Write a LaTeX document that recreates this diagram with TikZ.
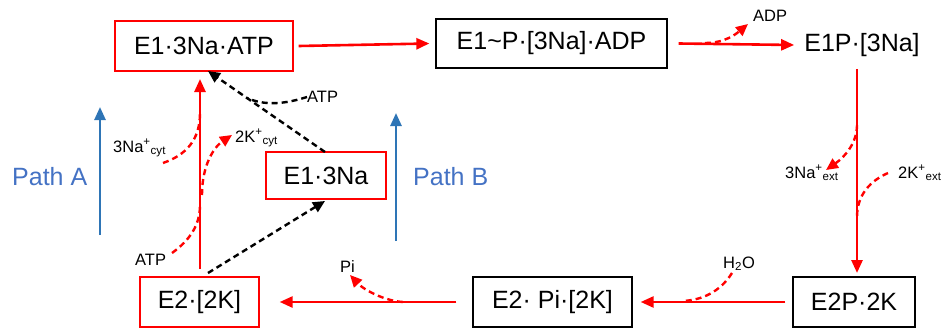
\documentclass[tikz,border=0pt]{standalone}
\usepackage{fontspec}
\setmainfont{Liberation Sans}
\usetikzlibrary{arrows.meta,calc}
\definecolor{myred}{RGB}{255,0,0}
\definecolor{arrowblue}{RGB}{46,117,182}
\definecolor{textblue}{RGB}{68,114,196}
\tikzset{
  box/.style={draw=black,line width=1.3pt,inner sep=0pt,font=\fontsize{25}{30}\selectfont},
  redbox/.style={box,draw=myred},
  lbl/.style={inner sep=0pt,anchor=base west,font=\fontsize{16.5}{20}\selectfont},
  pathlbl/.style={inner sep=0pt,anchor=base west,text=textblue,font=\fontsize{25}{30}\selectfont},
  mainarrow/.style={draw=myred,line width=2.6pt,-{Triangle[length=13pt,width=11pt]}},
  mainline/.style={draw=myred,line width=2.6pt},
  reddash/.style={draw=myred,line width=2.4pt,dash pattern=on 6pt off 4pt},
  reddasharrow/.style={reddash,-{Triangle[length=12pt,width=11pt]}},
  blackdash/.style={draw=black,line width=2.4pt,dash pattern=on 6pt off 4pt},
  blackdasharrow/.style={blackdash,-{Triangle[length=12pt,width=11pt]}},
  bluearrow/.style={draw=arrowblue,line width=2.6pt,-{Triangle[length=13pt,width=11pt]}}
}
\begin{document}
\begin{tikzpicture}[x=1pt,y=-1pt]
\useasboundingbox (0,0) rectangle (942,329);
% boxes
\node[redbox,minimum width=178pt,minimum height=50pt] (n1) at (204,46) {E1·3Na·ATP};
\node[box,minimum width=231pt,minimum height=49pt] (n2) at (551.5,43.5) {E1\textasciitilde P·[3Na]·ADP};
\node[inner sep=0pt,font=\fontsize{25}{30}\selectfont] (n3) at (862,45) {E1P·[3Na]};
\node[box,minimum width=122pt,minimum height=50pt] (n4) at (854,302) {E2P·2K};
\node[box,minimum width=159pt,minimum height=50pt] (n5) at (552.5,302) {E2· Pi·[2K]};
\node[redbox,minimum width=119pt,minimum height=50pt] (n6) at (199.5,302) {E2·[2K]};
\node[redbox,minimum width=120pt,minimum height=47pt] (n7) at (326,175.5) {E1·3Na};
% labels
\node[lbl] (adp) at (753,22) {ADP};
\node[lbl] (naext) at (785,178) {3Na\textsuperscript{+}\textsubscript{ext}};
\node[lbl] (kext) at (898,178) {2K\textsuperscript{+}\textsubscript{ext}};
\node[lbl] (h2o) at (723,268) {H\textsubscript{2}O};
\node[lbl] (pi) at (340,272) {Pi};
\node[lbl] (atpr) at (135,265) {ATP};
\node[lbl] (nacyt) at (113,152) {3Na\textsuperscript{+}\textsubscript{cyt}};
\node[lbl] (kcyt) at (235,142) {2K\textsuperscript{+}\textsubscript{cyt}};
\node[lbl] (atpb) at (307,102) {ATP};
\node[pathlbl] (pa) at (12,185) {Path A};
\node[pathlbl] (pb) at (413,185) {Path B};
% main cycle
\draw[mainarrow] ($(n1.east)+(5,0)$) -- ($(n2.west)+(-6,0)$);
\draw[mainarrow] ($(n2.east)+(11,0)$) -- ($(n3.west)+(-10,0)$);
\coordinate (c3s) at (857,69);
\coordinate (c4n) at (857,273);
\draw[mainarrow] (c3s) -- (c4n);
\draw[mainarrow] ($(n4.west)+(-7,0)$) -- ($(n5.east)+(8,0)$);
\draw[mainarrow] ($(n5.west)+(-16,0)$) -- ($(n6.east)+(20,0)$);
\coordinate (c6n) at (200,269);
\coordinate (c1s) at (200,79);
\draw[mainarrow] (c6n) -- (c1s);
% path B dashed
\coordinate (c7n) at (325,152);
\coordinate (c1sb) at (208,71);
\draw[blackdasharrow] (c7n) -- (c1sb);
\coordinate (c6nb) at (208,273);
\coordinate (c7s) at (325,201);
\draw[blackdasharrow] (c6nb) -- (c7s);
% branches
\coordinate (jadp) at (705,43);
\coordinate (tadp) at (748,24);
\draw[reddasharrow] (jadp) .. controls (725,43) and (736,34) .. (tadp);
\coordinate (jna) at (857,125);
\coordinate (tna) at (826,170);
\draw[reddasharrow] (jna) .. controls (857,142) and (846,156) .. (tna);
\coordinate (sk) at (888,173);
\coordinate (jk) at (857,217);
\draw[reddash] (sk) .. controls (870,181) and (857,195) .. (jk);
\coordinate (sh) at (732,273);
\coordinate (jh) at (683,301);
\draw[reddash] (sh) .. controls (720,292) and (702,300) .. (jh);
\coordinate (jpi) at (403,302);
\coordinate (tpi) at (350,275);
\draw[reddasharrow] (jpi) .. controls (385,301) and (364,290) .. (tpi);
\coordinate (sna) at (163,163);
\coordinate (jna2) at (200,113);
\draw[reddash] (sna) .. controls (186,155) and (200,140) .. (jna2);
\coordinate (satp) at (172,253);
\coordinate (jatp) at (200,205);
\draw[reddash] (satp) .. controls (190,240) and (200,225) .. (jatp);
\coordinate (jk2) at (202,195);
\coordinate (tk2) at (232,135);
\draw[reddasharrow] (jk2) .. controls (202,165) and (214,147) .. (tk2);
\coordinate (satpb) at (307,97);
\coordinate (jatpb) at (247,98);
\draw[blackdash] (satpb) .. controls (285,104) and (265,106) .. (jatpb);
% path arrows
\coordinate (pas) at (100,235);
\coordinate (pae) at (100,107);
\draw[bluearrow] (pas) -- (pae);
\coordinate (pbs) at (396,241);
\coordinate (pbe) at (396,113);
\draw[bluearrow] (pbs) -- (pbe);
\end{tikzpicture}
\end{document}
